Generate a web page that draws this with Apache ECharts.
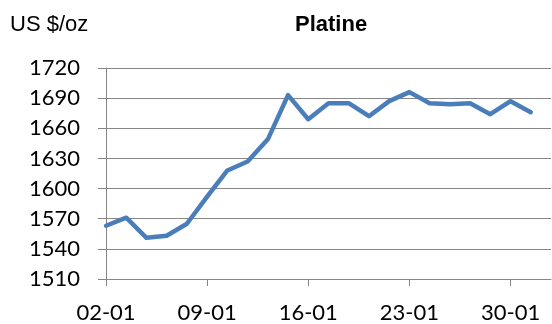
<!DOCTYPE html>
<html>
<head>
<meta charset="utf-8">
<script src="https://cdn.jsdelivr.net/npm/echarts@6/dist/echarts.min.js"></script>
<style>
  html, body { margin: 0; padding: 0; background: #fff; }
  #chart { width: 552px; height: 324px; }
</style>
</head>
<body>
<div id="chart"></div>
<script>
// Platinum price, business days of January (US $ per troy ounce)
const days = ['02-01','03-01','04-01','05-01','06-01',
              '09-01','10-01','11-01','12-01','13-01',
              '16-01','17-01','18-01','19-01','20-01',
              '23-01','24-01','25-01','26-01','27-01',
              '30-01','31-01','01-02'];
const prices = [1563, 1571, 1551, 1553, 1565,
                1592, 1618, 1627, 1649, 1693,
                1669, 1685, 1685, 1672, 1687,
                1696, 1685, 1684, 1685, 1674,
                1687, 1676, null];
const yMin = 1510, yMax = 1720, yStep = 30;
const chartTitle = 'Platine';
const unitLabel = 'US $/oz';

const gray = '#868686';
const chart = echarts.init(document.getElementById('chart'), null, { renderer: 'canvas' });
chart.setOption({
  animation: false,
  backgroundColor: '#ffffff',
  grid: { left: 106, right: 1, top: 68, bottom: 45 },
  graphic: [
    { type: 'text', left: 10, top: 14,
      style: { text: unitLabel, fill: '#000', font: '22px "Liberation Sans", Arial, sans-serif' } },
    { type: 'text', left: 295, top: 14,
      style: { text: chartTitle, fill: '#000', font: 'bold 22px "Liberation Sans", Arial, sans-serif' } }
  ],
  xAxis: {
    type: 'category',
    data: days,
    boundaryGap: false,
    axisLine: { lineStyle: { color: gray, width: 1 } },
    axisTick: { show: true, length: 7, interval: 4, lineStyle: { color: gray } },
    axisLabel: { interval: 4, margin: 23, color: '#000', fontSize: 22, fontFamily: 'Lato' },
    splitLine: { show: false }
  },
  yAxis: {
    type: 'value',
    min: yMin, max: yMax, interval: yStep,
    axisLine: { show: true, lineStyle: { color: gray, width: 1 } },
    axisTick: { show: true, length: 8, lineStyle: { color: gray } },
    axisLabel: { margin: 26, color: '#000', fontSize: 22, fontFamily: 'Lato',
                 formatter: v => String(v) },
    splitLine: { show: true, lineStyle: { color: gray, width: 1 } }
  },
  series: [{
    type: 'line',
    data: prices,
    showSymbol: false,
    symbol: 'none',
    lineStyle: { color: '#4A7EBB', width: 4.5, join: 'round', cap: 'round' },
    itemStyle: { color: '#4A7EBB' }
  }]
});
</script>
</body>
</html>
